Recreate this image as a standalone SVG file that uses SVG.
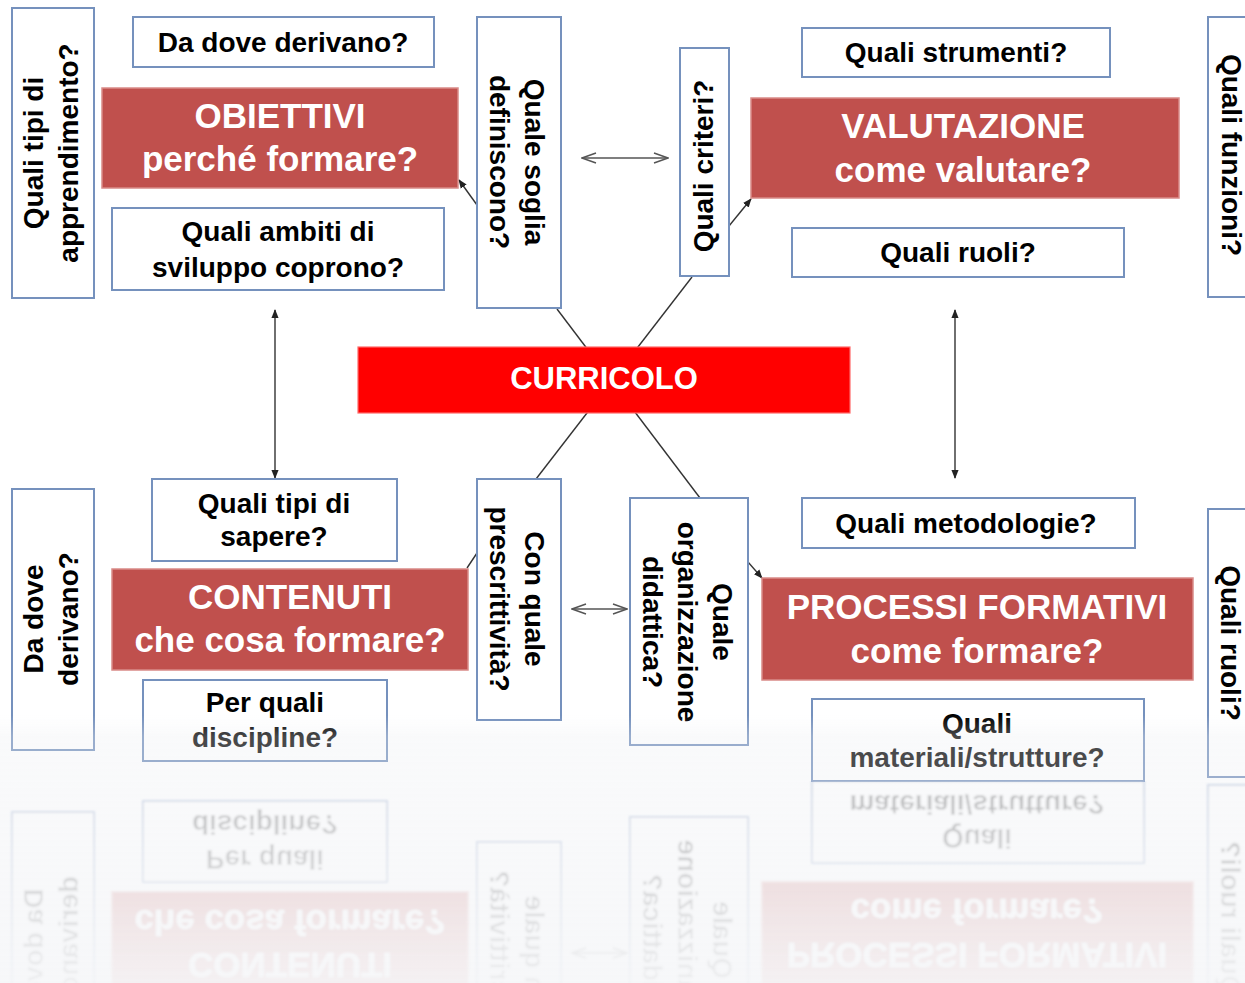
<svg xmlns="http://www.w3.org/2000/svg" width="1245" height="983" viewBox="0 0 1245 983">
<defs>
<style>
.t{font-family:"Liberation Sans",Arial,sans-serif;font-weight:bold;font-size:28px;fill:#000;text-anchor:middle}
.w{font-family:"Liberation Sans",Arial,sans-serif;font-weight:bold;font-size:35px;fill:#fff;text-anchor:middle}
.c{font-family:"Liberation Sans",Arial,sans-serif;font-weight:bold;font-size:31px;fill:#fff;text-anchor:middle}
.q{fill:#fff;stroke:#7591bd;stroke-width:2}
.r{fill:#c0504d;stroke:#d98b88;stroke-width:1.5}
.ln{stroke:#333;stroke-width:1.4;fill:none}
.dbl{stroke:#555;stroke-width:1.4;fill:none}
</style>
<marker id="ah" viewBox="0 0 10 10" refX="9" refY="5" markerWidth="9" markerHeight="9" markerUnits="userSpaceOnUse" orient="auto-start-reverse">
<path d="M0,1 L10,5 L0,9 Z" fill="#222"/>
</marker>
<marker id="av" viewBox="0 0 16 12" refX="15" refY="6" markerWidth="16" markerHeight="12" markerUnits="userSpaceOnUse" orient="auto-start-reverse">
<path d="M1,1 L15,6 L1,11" fill="none" stroke="#555" stroke-width="1.4"/>
</marker>
<linearGradient id="reflGrad" gradientUnits="userSpaceOnUse" x1="0" y1="781" x2="0" y2="983">
<stop offset="0" stop-color="#fff" stop-opacity="0.4"/>
<stop offset="1" stop-color="#fff" stop-opacity="0.07"/>
</linearGradient>
<mask id="reflMask" maskUnits="userSpaceOnUse" x="0" y="781" width="1245" height="202">
<rect x="0" y="781" width="1245" height="202" fill="url(#reflGrad)"/>
</mask>
<filter id="rb" x="-5%" y="-5%" width="110%" height="110%">
<feGaussianBlur stdDeviation="0.9"/>
</filter>
<linearGradient id="floor" x1="0" y1="0" x2="0" y2="1">
<stop offset="0" stop-color="#eceef2" stop-opacity="0"/>
<stop offset="0.08" stop-color="#eceef2" stop-opacity="0.3"/>
<stop offset="1" stop-color="#eceef2" stop-opacity="0.45"/>
</linearGradient>
</defs>
<rect x="0" y="0" width="1245" height="983" fill="#fff"/>
<g id="scene">
<g id="connectors">
<line class="ln" x1="557" y1="309" x2="700" y2="498"/>
<line class="ln" x1="692" y1="277" x2="536" y2="479"/>
<line class="dbl" x1="582" y1="158" x2="668" y2="158" marker-start="url(#av)" marker-end="url(#av)"/>
<line class="dbl" x1="572" y1="609" x2="627" y2="609" marker-start="url(#av)" marker-end="url(#av)"/>
<line class="ln" x1="275" y1="310" x2="275" y2="478" marker-start="url(#ah)" marker-end="url(#ah)"/>
<line class="ln" x1="955" y1="310" x2="955" y2="478" marker-start="url(#ah)" marker-end="url(#ah)"/>
<line class="ln" x1="477" y1="205" x2="459" y2="180" marker-end="url(#ah)"/>
<line class="ln" x1="729" y1="226" x2="751" y2="199" marker-end="url(#ah)"/>
<line class="ln" x1="477" y1="553" x2="467" y2="568"/>
<line class="ln" x1="748" y1="562" x2="762" y2="578" marker-end="url(#ah)"/>
</g>
<g id="n-tipi-apprendimento">
<rect class="q" x="12" y="8" width="82" height="290"/>
<text class="t" transform="translate(43,153) rotate(-90)"><tspan x="0">Quali tipi di</tspan><tspan x="0" dy="35">apprendimento?</tspan></text>
</g>
<g id="n-da-dove-top">
<rect class="q" x="133" y="17" width="301" height="50"/>
<text class="t" x="283" y="52">Da dove derivano?</text>
</g>
<g id="n-obiettivi">
<rect class="r" x="102" y="88" width="356" height="100"/>
<text class="w" x="280" y="128">OBIETTIVI</text>
<text class="w" x="280" y="171">perché formare?</text>
</g>
<g id="n-ambiti">
<rect class="q" x="112" y="208" width="332" height="82"/>
<text class="t" x="278" y="241">Quali ambiti di</text>
<text class="t" x="278" y="277">sviluppo coprono?</text>
</g>
<g id="n-soglia">
<rect class="q" x="477" y="17" width="84" height="291"/>
<text class="t" transform="translate(525,162) rotate(90)"><tspan x="0">Quale soglia</tspan><tspan x="0" dy="35">definiscono?</tspan></text>
</g>
<g id="n-criteri">
<rect class="q" x="680" y="48" width="49" height="228"/>
<text class="t" transform="translate(713,166) rotate(-90)">Quali criteri?</text>
</g>
<g id="n-strumenti">
<rect class="q" x="802" y="28" width="308" height="49"/>
<text class="t" x="956" y="62">Quali strumenti?</text>
</g>
<g id="n-valutazione">
<rect class="r" x="751" y="98" width="428" height="100"/>
<text class="w" x="963" y="138">VALUTAZIONE</text>
<text class="w" x="963" y="182">come valutare?</text>
</g>
<g id="n-ruoli-top">
<rect class="q" x="792" y="228" width="332" height="49"/>
<text class="t" x="958" y="262">Quali ruoli?</text>
</g>
<g id="n-funzioni">
<rect class="q" x="1208" y="17" width="90" height="280"/>
<text class="t" transform="translate(1222,155) rotate(90)">Quali funzioni?</text>
</g>
<g id="n-curricolo">
<rect x="358" y="347" width="492" height="66" fill="#ff0000" stroke="#ff6a6a" stroke-width="1.2"/>
<text class="c" x="604" y="389">CURRICOLO</text>
</g>
<g id="n-da-dove-bottom">
<rect class="q" x="12" y="489" width="82" height="261"/>
<text class="t" transform="translate(43,619) rotate(-90)"><tspan x="0">Da dove</tspan><tspan x="0" dy="35">derivano?</tspan></text>
</g>
<g id="n-tipi-sapere">
<rect class="q" x="152" y="479" width="245" height="82"/>
<text class="t" x="274" y="513">Quali tipi di</text>
<text class="t" x="274" y="546">sapere?</text>
</g>
<g id="n-contenuti">
<rect class="r" x="112" y="569" width="356" height="101"/>
<text class="w" x="290" y="609">CONTENUTI</text>
<text class="w" x="290" y="652">che cosa formare?</text>
</g>
<g id="n-discipline">
<rect class="q" x="143" y="680" width="244" height="81"/>
<text class="t" x="265" y="712">Per quali</text>
<text class="t" x="265" y="747">discipline?</text>
</g>
<g id="n-prescrittivita">
<rect class="q" x="477" y="479" width="84" height="241"/>
<text class="t" transform="translate(525,599) rotate(90)"><tspan x="0">Con quale</tspan><tspan x="0" dy="35">prescrittività?</tspan></text>
</g>
<g id="n-organizzazione">
<rect class="q" x="630" y="498" width="118" height="247"/>
<text class="t" transform="translate(713,622) rotate(90)"><tspan x="0">Quale</tspan><tspan x="0" dy="35">organizzazione</tspan><tspan x="0" dy="35">didattica?</tspan></text>
</g>
<g id="n-metodologie">
<rect class="q" x="802" y="498" width="333" height="50"/>
<text class="t" x="966" y="533">Quali metodologie?</text>
</g>
<g id="n-processi">
<rect class="r" x="762" y="578" width="431" height="102"/>
<text class="w" x="977" y="619">PROCESSI FORMATIVI</text>
<text class="w" x="977" y="663">come formare?</text>
</g>
<g id="n-materiali">
<rect class="q" x="812" y="699" width="332" height="82"/>
<text class="t" x="977" y="733">Quali</text>
<text class="t" x="977" y="767">materiali/strutture?</text>
</g>
<g id="n-ruoli-right">
<rect class="q" x="1208" y="509" width="90" height="268"/>
<text class="t" transform="translate(1221,643) rotate(90)">Quali ruoli?</text>
</g>
</g>
<g id="reflection" mask="url(#reflMask)">
<use href="#scene" transform="matrix(1 0 0 -1 0 1562)" filter="url(#rb)"/>
</g>
<rect id="floor-overlay" x="0" y="715" width="1245" height="268" fill="url(#floor)"/>
</svg>
